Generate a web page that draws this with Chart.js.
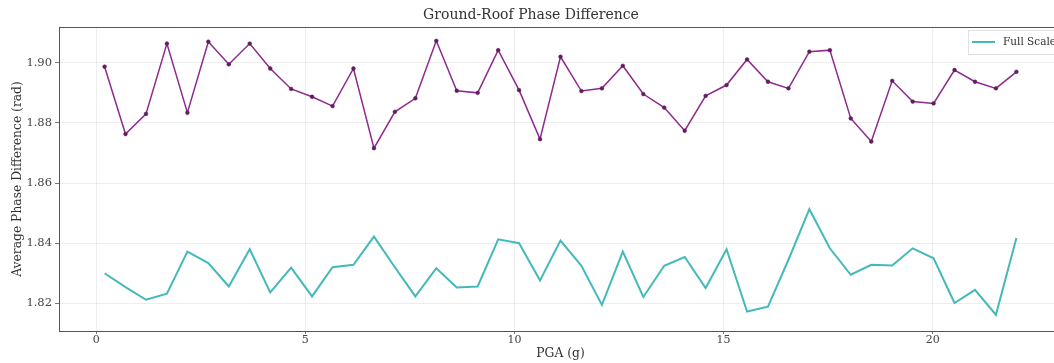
<!DOCTYPE html>
<html><head><meta charset="utf-8">
<script src="https://cdn.jsdelivr.net/npm/chart.js@4.4.1/dist/chart.umd.min.js"></script>
<style>
html,body{margin:0;padding:0;background:#fff;overflow:hidden;width:1054px;height:363px}
#wrap{position:relative;width:1070px;height:363px}
</style></head>
<body><div id="wrap"><canvas id="c" width="1070" height="363"></canvas></div>
<script>
// PGA (g) sample positions
const pgaValues = [0.20,0.70,1.19,1.69,2.18,2.68,3.17,3.67,4.16,4.66,5.16,5.65,6.15,6.64,7.14,7.63,8.13,8.62,9.12,9.61,10.11,10.61,11.10,11.60,12.09,12.59,13.08,13.58,14.07,14.57,15.07,15.56,16.06,16.55,17.05,17.54,18.04,18.53,19.03,19.52,20.02,20.52,21.01,21.51,22.00];
// Upper (purple) series, not in legend
const upperSeries = [1.8987,1.8763,1.8830,1.9064,1.8834,1.9070,1.8995,1.9064,1.8981,1.8913,1.8887,1.8856,1.8981,1.8716,1.8837,1.8882,1.9073,1.8907,1.8900,1.9042,1.8909,1.8746,1.9020,1.8906,1.8915,1.8990,1.8896,1.8851,1.8774,1.8890,1.8926,1.9011,1.8937,1.8915,1.9037,1.9042,1.8815,1.8738,1.8940,1.8871,1.8865,1.8976,1.8937,1.8915,1.8970];
// Full Scale (cyan) series
const fullScale = [1.8300,1.8254,1.8212,1.8232,1.8372,1.8334,1.8256,1.8380,1.8236,1.8319,1.8223,1.8320,1.8328,1.8422,1.8320,1.8223,1.8317,1.8253,1.8256,1.8413,1.8400,1.8276,1.8409,1.8325,1.8195,1.8372,1.8221,1.8325,1.8354,1.8251,1.8380,1.8173,1.8189,1.8345,1.8513,1.8383,1.8295,1.8328,1.8326,1.8383,1.8350,1.8201,1.8245,1.8162,1.8417];
const xTicks = [0,5,10,15,20];
const yTicks = [1.82,1.84,1.86,1.88,1.90];
const titleText = 'Ground-Roof Phase Difference';
const xTitle = 'PGA (g)';
const yTitle = 'Average Phase Difference (rad)';
const fullLabel = 'Full Scale';

const serif = "'DejaVu Serif', serif";
const toPts = (ys) => ys.map((y, i) => ({x: pgaValues[i], y}));

// Frame around plot + legend inside the plot area (upper right), from dataset labels/colours
const framePlugin = {
  id: 'frame',
  afterDraw(chart) {
    const {ctx, chartArea: a} = chart;
    ctx.save();
    ctx.strokeStyle = '#555';
    ctx.lineWidth = 1;
    ctx.strokeRect(Math.round(a.left) + 0.5, Math.round(a.top) + 0.5, Math.round(a.right - a.left), Math.round(a.bottom - a.top));
    // legend
    const items = chart.data.datasets.filter(d => d.label);
    ctx.font = "10.5px 'DejaVu Serif', serif";
    const rowH = 16;
    const bx = a.right - 94, by = a.top + 3;
    const bw = 90, bh = 8 + rowH * items.length;
    ctx.fillStyle = 'rgba(255,255,255,0.85)';
    ctx.fillRect(bx, by, bw, bh);
    ctx.strokeStyle = 'rgba(0,0,0,0.12)';
    ctx.strokeRect(bx + 0.5, by + 0.5, bw, bh);
    items.forEach((d, i) => {
      const cy = by + 4 + rowH * i + rowH / 2;
      ctx.strokeStyle = d.borderColor;
      ctx.lineWidth = d.borderWidth;
      ctx.beginPath();
      ctx.moveTo(bx + 4, cy);
      ctx.lineTo(bx + 27, cy);
      ctx.stroke();
      ctx.fillStyle = '#333';
      ctx.textBaseline = 'middle';
      ctx.fillText(d.label, bx + 35, cy);
    });
    ctx.restore();
  }
};

new Chart(document.getElementById('c'), {
  type: 'line',
  data: {
    datasets: [
      {
        label: fullLabel,
        data: toPts(fullScale),
        borderColor: '#45b9b9',
        backgroundColor: '#45b9b9',
        borderWidth: 2,
        pointRadius: 0,
        tension: 0
      },
      {
        label: '',
        data: toPts(upperSeries),
        borderColor: '#8e2a8e',
        backgroundColor: '#5e1f5e',
        pointBackgroundColor: '#5e1f5e',
        pointBorderColor: '#5e1f5e',
        borderWidth: 1.5,
        pointRadius: 1.9,
        pointBorderWidth: 0.5,
        tension: 0
      }
    ]
  },
  options: {
    responsive: false,
    devicePixelRatio: 1,
    animation: false,
    layout: {padding: {left: 0, right: 8, top: 0, bottom: 0}},
    plugins: {
      title: {
        display: true,
        text: titleText,
        color: '#333',
        font: {family: serif, size: 14, weight: 'normal', lineHeight: 1.2},
        padding: {top: 7.3, bottom: 2.9}
      },
      legend: {display: false},
      tooltip: {enabled: false}
    },
    scales: {
      x: {
        type: 'linear',
        min: -0.89,
        max: 23.09,
        afterBuildTicks: (s) => { s.ticks = xTicks.map(v => ({value: v})); },
        afterFit: (s) => { s.height = 32; },
        ticks: {color: '#444', font: {family: serif, size: 11}, padding: 0, maxRotation: 0,
          callback: (v) => String(v)},
        grid: {color: 'rgba(0,0,0,0.09)', lineWidth: 0.8, tickColor: '#555', tickLength: 3},
        border: {color: '#555', width: 1},
        title: {display: true, text: xTitle, color: '#333', font: {family: serif, size: 12.3}, padding: {top: 0, bottom: 1.5}}
      },
      y: {
        type: 'linear',
        min: 1.8108,
        max: 1.9119,
        afterBuildTicks: (s) => { s.ticks = yTicks.map(v => ({value: v})); },
        afterFit: (s) => { s.width = 59; },
        ticks: {color: '#444', font: {family: serif, size: 11.5}, padding: 3,
          callback: (v) => Number(v).toFixed(2)},
        grid: {color: 'rgba(0,0,0,0.09)', lineWidth: 0.8, tickColor: '#555', tickLength: 4},
        border: {color: '#555', width: 1},
        title: {display: true, text: yTitle, color: '#333', font: {family: serif, size: 12.3}, padding: {top: 10, bottom: 0}}
      }
    }
  },
  plugins: [framePlugin]
});
</script>
</body></html>
